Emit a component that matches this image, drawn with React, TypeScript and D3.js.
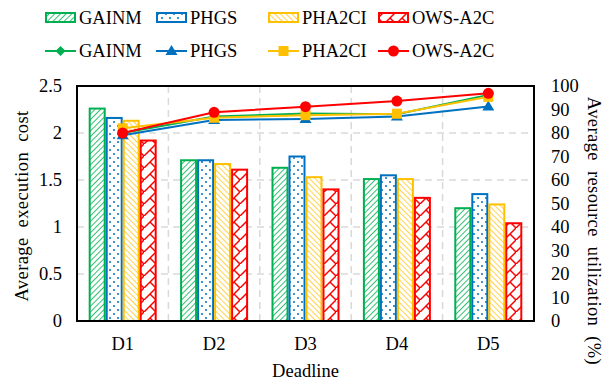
import React from "react";
import * as d3 from "d3";

const categories = ["D1", "D2", "D3", "D4", "D5"];
const seriesNames = ["GAINM", "PHGS", "PHA2CI", "OWS-A2C"];
const costGAINM = [2.26, 1.71, 1.63, 1.51, 1.2];
const costPHGS = [2.16, 1.71, 1.75, 1.55, 1.35];
const costPHA2CI = [2.13, 1.67, 1.53, 1.51, 1.24];
const costOWS = [1.92, 1.61, 1.4, 1.31, 1.04];
const utilGAINM = [80, 87, 88.3, 88, 96.2];
const utilPHGS = [79, 85.5, 86, 87, 91.3];
const utilPHA2CI = [82, 86.5, 87.6, 88.2, 95.4];
const utilOWS = [80, 88.8, 91.2, 93.6, 96.9];
const leftTicks = [0, 0.5, 1, 1.5, 2, 2.5];
const rightTicks = [0, 10, 20, 30, 40, 50, 60, 70, 80, 90, 100];

const colors = ["#00B050", "#0070C0", "#FFC000", "#FF0000"];
const costs = [costGAINM, costPHGS, costPHA2CI, costOWS];
const utils = [utilGAINM, utilPHGS, utilPHA2CI, utilOWS];
const markers = ["diamond", "triangle", "square", "circle"];

const W = 614, H = 384;
const L = 77, R = 534, T = 86, B = 321;
const FONT = "'Liberation Serif', 'Times New Roman', serif";
const FS = 18.5;

function Marker({ type, x, y, color }: { type: string; x: number; y: number; color: string }) {
  if (type === "circle") return <circle cx={x} cy={y} r={5.5} fill={color} />;
  if (type === "square") return <rect x={x - 5} y={y - 5} width={10} height={10} fill={color} />;
  if (type === "triangle") return <path d={`M${x},${y - 6}L${x + 6},${y + 4}L${x - 6},${y + 4}Z`} fill={color} />;
  return <path d={`M${x},${y - 5}L${x + 5},${y}L${x},${y + 5}L${x - 5},${y}Z`} fill={color} />;
}

export default function App() {
  const x0 = d3.scaleBand().domain(categories).range([L, R]).paddingInner(0).paddingOuter(0);
  const groupW = 68;
  const x1 = d3.scaleBand().domain(seriesNames).range([0, groupW]);
  const yL = d3.scaleLinear().domain([0, 2.5]).range([B, T]);
  const yR = d3.scaleLinear().domain([0, 100]).range([B, T]);
  const cx = (c: string) => (x0(c) as number) + x0.bandwidth() / 2;
  const line = (vals: number[]) =>
    d3.line<number>().x((_, i) => cx(categories[i])).y((v) => yR(v))(vals) as string;

  const patIds = ["pGAINM", "pPHGS", "pPHA2CI", "pOWS"];
  const legendX = [45, 156, 268, 378];

  return (
    <svg width={W} height={H} style={{ position: "absolute", left: 0, top: 0, background: "#fff" }} fontFamily={FONT}>
      <defs>
        <pattern id="pGAINM" patternUnits="userSpaceOnUse" width={4} height={4} patternTransform="rotate(45)">
          <rect width={4} height={4} fill="#fff" />
          <line x1={0} y1={0} x2={0} y2={4} stroke={colors[0]} strokeWidth={1.6} />
        </pattern>
        <pattern id="pPHGS" patternUnits="userSpaceOnUse" width={8} height={8}>
          <rect width={8} height={8} fill="#fff" />
          <circle cx={2} cy={2} r={1} fill={colors[1]} />
          <circle cx={6} cy={6} r={1} fill={colors[1]} />
        </pattern>
        <pattern id="pPHA2CI" patternUnits="userSpaceOnUse" width={4} height={4} patternTransform="rotate(-45)">
          <rect width={4} height={4} fill="#fff" />
          <line x1={0} y1={0} x2={0} y2={4} stroke={colors[2]} strokeWidth={1.4} />
        </pattern>
        <pattern id="pOWS" patternUnits="userSpaceOnUse" width={12} height={12}>
          <rect width={12} height={12} fill="#fff" />
          <path d="M0,12L12,0" stroke={colors[3]} strokeWidth={1.5} />
          <path d="M6,6L12,12" stroke={colors[3]} strokeWidth={1.5} />
        </pattern>
      </defs>

      {leftTicks.slice(1).map((t) => (
        <line key={"h" + t} x1={L} x2={R} y1={yL(t)} y2={yL(t)} stroke="#D9D9D9" strokeWidth={1.5} strokeDasharray="7,5" />
      ))}
      {categories.slice(1).map((c) => (
        <line key={"v" + c} x1={x0(c) as number} x2={x0(c) as number} y1={T} y2={B} stroke="#D9D9D9" strokeWidth={1.5} strokeDasharray="7,5" />
      ))}

      {costs.map((vals, s) =>
        vals.map((v, i) => {
          const c = categories[i];
          const bx = cx(c) - groupW / 2 + (x1(seriesNames[s]) as number);
          return (
            <rect
              key={s + "-" + i}
              x={bx + 1}
              y={yL(v)}
              width={x1.bandwidth() - 2}
              height={B - yL(v)}
              fill={`url(#${patIds[s]})`}
              stroke={colors[s]}
              strokeWidth={2}
            />
          );
        })
      )}

      {utils.map((vals, s) => (
        <g key={"l" + s}>
          <path d={line(vals)} fill="none" stroke={colors[s]} strokeWidth={2} />
          {vals.map((v, i) => (
            <Marker key={i} type={markers[s]} x={cx(categories[i])} y={yR(v)} color={colors[s]} />
          ))}
        </g>
      ))}

      <rect x={L} y={T} width={R - L} height={B - T} fill="none" stroke="#000" strokeWidth={2} />

      {leftTicks.map((t) => (
        <text key={"lt" + t} x={62} y={yL(t)} dy="0.35em" textAnchor="end" fontSize={FS}>
          {t}
        </text>
      ))}
      {rightTicks.map((t) => (
        <text key={"rt" + t} x={551} y={yR(t)} dy="0.35em" textAnchor="start" fontSize={FS}>
          {t}
        </text>
      ))}
      {categories.map((c) => (
        <text key={"c" + c} x={cx(c)} y={344} dy="0.35em" textAnchor="middle" fontSize={FS}>
          {c}
        </text>
      ))}
      <text x={(L + R) / 2} y={371} dy="0.35em" textAnchor="middle" fontSize={FS}>
        Deadline
      </text>
      <text transform={`translate(22,206) rotate(-90)`} textAnchor="middle" dy="0.35em" fontSize={FS} letterSpacing={0.4} wordSpacing={5}>
        Average execution cost
      </text>
      <text transform={`translate(594,231) rotate(90)`} textAnchor="middle" dy="0.35em" fontSize={FS} letterSpacing={0.4} wordSpacing={5}>
        Average resource utilization (%)
      </text>

      {seriesNames.map((n, s) => (
        <g key={"lg" + s}>
          <rect x={legendX[s] + 1} y={13} width={29} height={9} fill={`url(#${patIds[s]})`} stroke={colors[s]} strokeWidth={2} />
          <text x={legendX[s] + 34} y={17.5} dy="0.35em" fontSize={FS}>
            {n}
          </text>
          <line x1={legendX[s]} x2={legendX[s] + 31} y1={51} y2={51} stroke={colors[s]} strokeWidth={2} />
          <Marker type={markers[s]} x={legendX[s] + 15.5} y={51} color={colors[s]} />
          <text x={legendX[s] + 34} y={51} dy="0.35em" fontSize={FS}>
            {n}
          </text>
        </g>
      ))}
    </svg>
  );
}
